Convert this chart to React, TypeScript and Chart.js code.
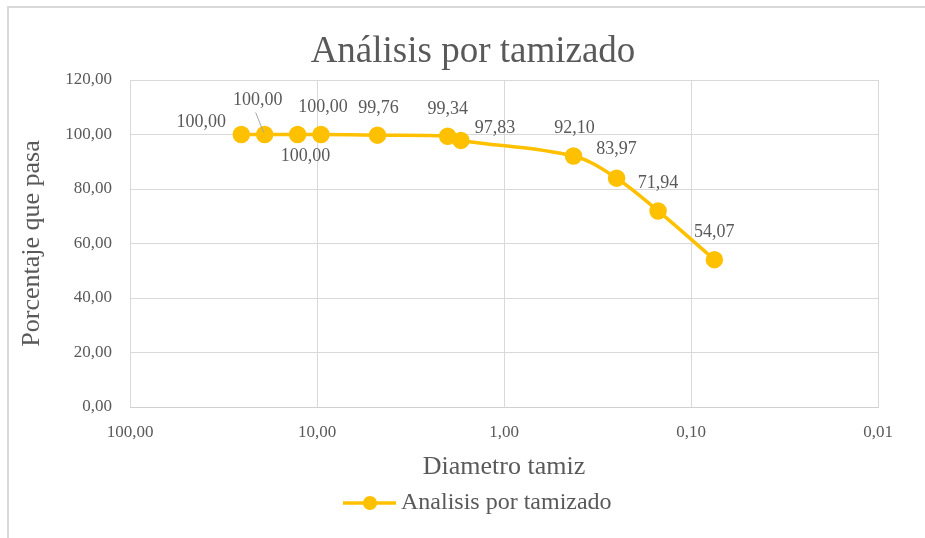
import React, { useEffect, useRef } from "react";
import { Chart, registerables } from "chart.js";

Chart.register(...registerables);

const chartTitle = "Análisis por tamizado";
const seriesName = "Analisis por tamizado";
const xTitle = "Diametro tamiz";
const yTitle = "Porcentaje que pasa";
const sieveSizes = [25.4, 19.05, 12.7, 9.525, 4.75, 2.0, 1.7, 0.425, 0.25, 0.15, 0.075];
const percentPassing = [100.0, 100.0, 100.0, 100.0, 99.76, 99.34, 97.83, 92.1, 83.97, 71.94, 54.07];
const xTickValues = [100, 10, 1, 0.1, 0.01];
const yTickValues = [0, 20, 40, 60, 80, 100, 120];
// label placement relative to point (px)
const labelOffsets: [number, number][] = [
  [-40, -12], [-7, -34], [8, 22], [2, -27], [1, -27], [0, -27], [34, -12], [1, -28], [0, -29], [0, -28], [0, -27],
];

const fmt = (v: number) => v.toFixed(2).replace(".", ",");
const TEXT = "#595959";
const GOLD = "#FFC000";
const FONT = "'Liberation Serif', 'Times New Roman', serif";

export default function App() {
  const ref = useRef<HTMLCanvasElement>(null);
  useEffect(() => {
    const canvas = ref.current!;
    const extras = {
      id: "extras",
      afterDraw(chart: any) {
        const ctx = chart.ctx;
        ctx.save();
        // outer border
        ctx.strokeStyle = "#d9d9d9";
        ctx.lineWidth = 2;
        ctx.beginPath();
        ctx.moveTo(8, 540);
        ctx.lineTo(8, 7);
        ctx.lineTo(930, 7);
        ctx.stroke();
        // title
        ctx.fillStyle = TEXT;
        ctx.font = `37px ${FONT}`;
        ctx.textAlign = "center";
        ctx.textBaseline = "alphabetic";
        ctx.fillText(chartTitle, 473, 62);
        // data labels
        const meta = chart.getDatasetMeta(0);
        ctx.font = `18px ${FONT}`;
        ctx.textBaseline = "middle";
        meta.data.forEach((pt: any, i: number) => {
          const [dx, dy] = labelOffsets[i];
          ctx.fillText(fmt(percentPassing[i]), pt.x + dx, pt.y + dy);
          if (i === 1) {
            ctx.strokeStyle = "#a6a6a6";
            ctx.lineWidth = 1;
            ctx.beginPath();
            ctx.moveTo(pt.x - 9, pt.y - 22);
            ctx.lineTo(pt.x - 1, pt.y - 2);
            ctx.stroke();
          }
        });
        // legend
        const ly = 503;
        ctx.strokeStyle = GOLD;
        ctx.lineWidth = 3.5;
        ctx.beginPath();
        ctx.moveTo(343, ly);
        ctx.lineTo(396, ly);
        ctx.stroke();
        ctx.fillStyle = GOLD;
        ctx.beginPath();
        ctx.arc(370, ly, 7, 0, Math.PI * 2);
        ctx.fill();
        ctx.fillStyle = TEXT;
        ctx.font = `24px ${FONT}`;
        ctx.textAlign = "left";
        ctx.fillText(seriesName, 401, ly);
        ctx.restore();
      },
    };
    const chart = new Chart(canvas, {
      type: "line",
      data: {
        datasets: [
          {
            label: seriesName,
            data: sieveSizes.map((x, i) => ({ x, y: percentPassing[i] })),
            borderColor: GOLD,
            backgroundColor: GOLD,
            borderWidth: 3.5,
            pointRadius: 7,
            pointHoverRadius: 7,
            pointBackgroundColor: GOLD,
            pointBorderColor: GOLD,
            tension: 0.35,
          },
        ],
      },
      options: {
        animation: false,
        responsive: false,
        maintainAspectRatio: false,
        layout: { padding: { left: 10, right: 47, top: 80, bottom: 0 } },
        plugins: { legend: { display: false }, title: { display: false }, tooltip: { enabled: false } },
        scales: {
          x: {
            type: "logarithmic",
            reverse: true,
            min: 0.01,
            max: 100,
            afterBuildTicks: (s: any) => {
              s.ticks = xTickValues.map((v) => ({ value: v }));
            },
            afterFit: (s: any) => {
              s.height = 131;
            },
            ticks: {
              color: TEXT,
              font: { family: FONT, size: 17 },
              padding: 15,
              maxRotation: 0,
              autoSkip: false,
              callback: (v: any) => fmt(Number(v)),
            },
            grid: { color: "#d9d9d9", lineWidth: 1, drawTicks: false },
            border: { display: true, color: "#d0d0d0" },
            title: {
              display: true,
              text: xTitle,
              color: TEXT,
              font: { family: FONT, size: 26 },
              padding: { top: 0, bottom: 55 },
            },
          },
          y: {
            min: 0,
            max: 120,
            afterBuildTicks: (s: any) => {
              s.ticks = yTickValues.map((v) => ({ value: v }));
            },
            afterFit: (s: any) => {
              s.width = 120;
            },
            ticks: {
              color: TEXT,
              font: { family: FONT, size: 17 },
              padding: 18,
              callback: (v: any) => fmt(Number(v)),
            },
            grid: { color: "#d9d9d9", lineWidth: 1, drawTicks: false },
            border: { display: false },
            title: {
              display: true,
              text: yTitle,
              color: TEXT,
              font: { family: FONT, size: 26 },
              padding: { top: 7, bottom: 0 },
            },
          },
        },
      },
      plugins: [extras],
    });
    return () => chart.destroy();
  }, []);
  return (
    <div style={{ position: "fixed", left: 0, top: 0, width: 925, height: 538, background: "#fff" }}>
      <canvas ref={ref} width={925} height={538} style={{ width: 925, height: 538 }} />
    </div>
  );
}
